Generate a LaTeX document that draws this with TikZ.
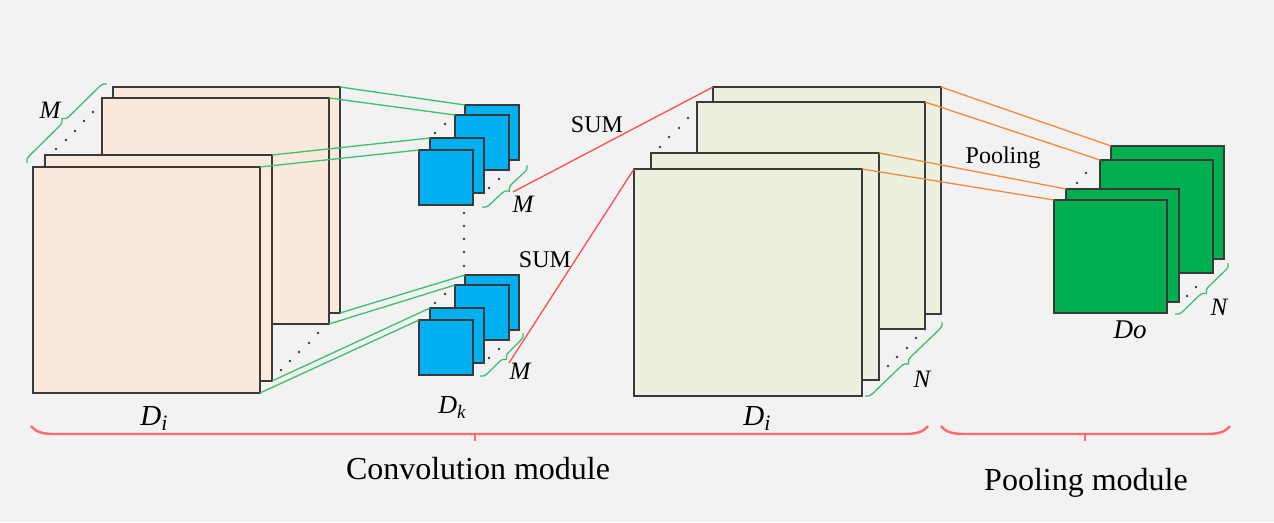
\documentclass[tikz,border=0pt]{standalone}
\usepackage{fontspec}
\setmainfont{Liberation Serif}
\usetikzlibrary{decorations.pathreplacing}
\definecolor{bg}{HTML}{F2F2F2}
\definecolor{peach}{HTML}{FBEADC}
\definecolor{lgreen}{HTML}{EBF1DE}
\definecolor{kblue}{HTML}{00B0F0}
\definecolor{pgreen}{HTML}{00B050}
\definecolor{gline}{HTML}{3CBF6E}
\definecolor{rline}{HTML}{FF4D4D}
\definecolor{oline}{HTML}{F28A3C}
\definecolor{bred}{HTML}{FF6B6B}
\definecolor{edge}{HTML}{3A3A3A}
\newcommand{\fsz}[1]{\fontsize{#1pt}{#1pt}\selectfont}
\tikzset{
  fmap/.style={draw=edge, line width=1.4pt, inner sep=0pt, outer sep=0pt, anchor=north west},
  lmap/.style={fmap, fill=peach, minimum width=227pt, minimum height=226pt},
  kmap/.style={fmap, fill=kblue, minimum width=54pt, minimum height=55pt},
  cmap/.style={fmap, fill=lgreen, minimum width=228pt, minimum height=227pt},
  pmap/.style={fmap, fill=pgreen, minimum width=113pt, minimum height=113pt},
  gconn/.style={draw=gline, line width=1.3pt},
  rconn/.style={draw=rline, line width=1.3pt},
  oconn/.style={draw=oline, line width=1.3pt},
  gbrace/.style={draw=gline, line width=1.3pt, decorate, decoration={brace, amplitude=7pt}},
  rbrk/.style={draw=bred, line width=2.4pt},
  rtick/.style={draw=bred, line width=1.2pt},
  dotm/.style={fill=edge},
  lbl/.style={anchor=base, inner sep=0pt, font=\fsz{24}},
  mlbl/.style={anchor=base, inner sep=0pt, font=\fsz{25}\itshape},
}
\begin{document}
\begin{tikzpicture}[x=1pt, y=-1pt]
\fill[bg] (0,0) rectangle (1274,522);
\useasboundingbox (0,0) rectangle (1274,522);

% ---------- left input stack ----------
\node[lmap] (L1) at (113,87) {};
\node[lmap] (L2) at (102,98) {};
\node[lmap] (L3) at (45,155) {};
\node[lmap] (L4) at (33,167) {};
\foreach \p in {(93,112),(84,121),(75,131),(66,140),(56,149),(318,333),(309,343),(299,352),(290,361),(281,370)}
  \fill[dotm] \p circle (1.3);

% ---------- kernels ----------
\node[kmap] (K1) at (465,105) {};
\node[kmap] (K2) at (455,115) {};
\node[kmap] (K3) at (430,138) {};
\node[kmap] (K4) at (419,150) {};
\node[kmap] (B1) at (465,275) {};
\node[kmap] (B2) at (455,285) {};
\node[kmap] (B3) at (430,308) {};
\node[kmap] (B4) at (419,320) {};
\foreach \p in {(445,124),(435,133),(499,179),(489,188),(445,294),(435,303),(499,349),(489,358),(464,213),(464,226),(464,239),(464,252),(464,266)}
  \fill[dotm] \p circle (1.3);

% ---------- convolution output stack ----------
\node[cmap] (C1) at (713,87) {};
\node[cmap] (C2) at (697,102) {};
\node[cmap] (C3) at (651,153) {};
\node[cmap] (C4) at (634,169) {};
\foreach \p in {(688,118),(679,128),(669,137),(660,147),(925,329),(916,338),(907,348),(897,357),(888,366)}
  \fill[dotm] \p circle (1.3);

% ---------- pooling output stack ----------
\node[pmap] (P1) at (1111,146) {};
\node[pmap] (P2) at (1100,160) {};
\node[pmap] (P3) at (1066,189) {};
\node[pmap] (P4) at (1054,200) {};
\foreach \p in {(1086,173),(1077,183),(1196,287),(1187,296)}
  \fill[dotm] \p circle (1.3);

% ---------- green connectors ----------
\draw[gconn] (L1.north east) -- (K1.north west);
\draw[gconn] (L2.north east) -- (K2.north west);
\draw[gconn] (L3.north east) -- (K3.north west);
\draw[gconn] (L4.north east) -- (K4.north west);
\draw[gconn] (L1.south east) -- (B1.north west);
\draw[gconn] (L2.south east) -- (B2.north west);
\draw[gconn] (L3.south east) -- (B3.north west);
\draw[gconn] (L4.south east) -- (B4.north west);

% ---------- braces M / N ----------
\draw[gbrace] (27,163) -- (107,84);
\draw[gbrace] (527,165) -- (482,207);
\draw[gbrace] (523,333) -- (480,376);
\draw[gbrace] (942,322) -- (865,396);
\draw[gbrace] (1228,263) -- (1175,314);
\coordinate (mt) at (513,192);
\coordinate (mb) at (509,363);

% ---------- red SUM connectors ----------
\draw[rconn] (mt) -- (C1.north west);
\draw[rconn] (mb) -- (C4.north west);

% ---------- orange pooling connectors ----------
\draw[oconn] (C1.north east) -- (P1.north west);
\draw[oconn] (C2.north east) -- (P2.north west);
\draw[oconn] (C3.north east) -- (P3.north west);
\draw[oconn] (C4.north east) -- (P4.north west);

% ---------- labels ----------
\node[mlbl] (lM1) at (50,118) {M};
\node[mlbl] (lM2) at (523,212) {M};
\node[mlbl] (lM3) at (520,379) {M};
\node[mlbl] (lN1) at (922,387) {N};
\node[mlbl] (lN2) at (1219,315) {N};
\node[lbl] (sum1) at (597,132) {SUM};
\node[lbl] (sum2) at (545,267) {SUM};
\node[lbl] (pool) at (1003,163) {Pooling};
\node[anchor=base, inner sep=0pt, font=\fsz{29}\itshape] (di1) at (154,425) {D\raisebox{-0.2em}{\fsz{22}i}};
\node[anchor=base, inner sep=0pt, font=\fsz{26}\itshape] (dk) at (452,413) {D\raisebox{-0.2em}{\fsz{19}k}};
\node[anchor=base, inner sep=0pt, font=\fsz{29}\itshape] (di2) at (757,425) {D\raisebox{-0.2em}{\fsz{22}i}};
\node[anchor=base, inner sep=0pt, font=\fsz{27}\itshape] (do) at (1130,338) {Do};

% ---------- module braces ----------
\draw[rbrk] (31,426) .. controls (36,432) and (42,434) .. (55,434) -- (904,434) .. controls (917,434) and (923,432) .. (928,426);
\draw[rtick] (475,434) -- (475,441);
\draw[rbrk] (941,426) .. controls (946,432) and (952,434) .. (965,434) -- (1206,434) .. controls (1219,434) and (1225,432) .. (1230,426);
\draw[rtick] (1085,434) -- (1085,441);
\node[anchor=base, inner sep=0pt, font=\fsz{32}] (conv) at (478,479) {Convolution module};
\node[anchor=base, inner sep=0pt, font=\fsz{32}] (poolm) at (1086,490) {Pooling module};
\end{tikzpicture}
\end{document}
